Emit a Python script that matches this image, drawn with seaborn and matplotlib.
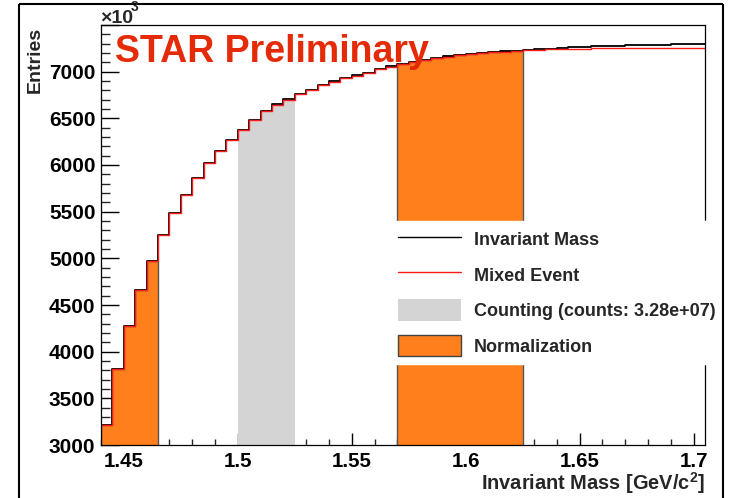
import numpy as np
import pandas as pd
import matplotlib
matplotlib.use("Agg")
import matplotlib.pyplot as plt
from matplotlib.lines import Line2D
from matplotlib.patches import Patch
from matplotlib.ticker import MultipleLocator, FuncFormatter
import seaborn as sns

# Invariant-mass binning (GeV/c^2): 53 bins of 5 MeV starting at 1.44
mass_min, bin_width, n_bins = 1.44, 0.005, 53
bin_edges = [round(mass_min + i * bin_width, 3) for i in range(n_bins + 1)]

# Same-event invariant-mass spectrum (entries / 10^3)
same_event = [3210, 3810, 4280, 4660, 4975, 5245, 5485, 5680, 5860, 6020,
              6155, 6270, 6380, 6478, 6574, 6654, 6707, 6764, 6807, 6861,
              6896, 6935, 6960, 6986, 7029, 7056, 7083, 7105, 7125, 7145,
              7165, 7178, 7190, 7200, 7210, 7218, 7225, 7233, 7240, 7248,
              7254, 7260, 7266, 7272, 7276, 7280, 7283, 7286, 7288, 7290,
              7292, 7293, 7294]

# Normalised mixed-event background (entries / 10^3)
mixed_event = [3210, 3810, 4280, 4660, 4975, 5245, 5485, 5680, 5860, 6020,
               6155, 6270, 6380, 6478, 6574, 6640, 6700, 6760, 6805, 6858,
               6894, 6933, 6958, 6984, 7027, 7054, 7081, 7103, 7123, 7143,
               7162, 7175, 7187, 7197, 7207, 7214, 7221, 7228, 7234, 7239,
               7243, 7246, 7248, 7250, 7251, 7252, 7253, 7253, 7254, 7254,
               7255, 7255, 7255]

counting_window = (1.50, 1.525)
normalization_windows = [(1.44, 1.465), (1.57, 1.625)]

legend_labels = ["Invariant Mass", "Mixed Event",
                 "Counting (counts: 3.28e+07)", "Normalization"]

ORANGE = "#FE7F1C"
GREY = "#D4D4D4"
STAR_RED = "#E42A06"
MIXED_RED = "#FF1A1A"

sns.set_style("ticks")
plt.rcParams["font.family"] = ["Liberation Sans", "DejaVu Sans"]
plt.rcParams["font.weight"] = "bold"
plt.rcParams["mathtext.fontset"] = "custom"
plt.rcParams["mathtext.rm"] = "Liberation Sans:bold"
plt.rcParams["mathtext.bf"] = "Liberation Sans:bold"

W, H = 730, 498
fig = plt.figure(figsize=(W / 100, H / 100), dpi=100)
fig.patch.set_facecolor("white")
ax = fig.add_axes([101 / W, 1 - 445 / H, 604 / W, 420 / H])

edges_arr = np.array(bin_edges)
centers = 0.5 * (edges_arr[:-1] + edges_arr[1:])
df = pd.DataFrame({"mass": centers, "same": same_event, "mixed": mixed_event})


def window_edges(lo, hi):
    return [e for e in bin_edges if lo - 1e-9 <= e <= hi + 1e-9]


def window_rows(lo, hi):
    return df[(df["mass"] > lo) & (df["mass"] < hi)]


# Shaded regions under the same-event histogram
lo, hi = counting_window
sns.histplot(data=window_rows(lo, hi), x="mass", weights="same",
             bins=window_edges(lo, hi), element="step", fill=True,
             color=GREY, alpha=1, linewidth=0, ax=ax)
for lo, hi in normalization_windows:
    sns.histplot(data=window_rows(lo, hi), x="mass", weights="same",
                 bins=window_edges(lo, hi), element="step", fill=True,
                 facecolor=ORANGE, alpha=1, edgecolor="#555555",
                 linewidth=1.0, ax=ax)

# Histogram outlines
sns.histplot(data=df, x="mass", weights="same", bins=bin_edges,
             element="step", fill=False, color="black", linewidth=1.3, ax=ax)
sns.histplot(data=df, x="mass", weights="mixed", bins=bin_edges,
             element="step", fill=False, color=MIXED_RED, linewidth=1.0, ax=ax)

ax.set_xlim(bin_edges[0], bin_edges[-1])
ax.set_ylim(3000, 7500)
ax.set_xlabel("")
ax.set_ylabel("")

ax.xaxis.set_major_locator(MultipleLocator(0.05))
ax.xaxis.set_minor_locator(MultipleLocator(0.01))
ax.yaxis.set_major_locator(MultipleLocator(500))
ax.yaxis.set_minor_locator(MultipleLocator(100))
ax.xaxis.set_major_formatter(FuncFormatter(lambda v, p: f"{v:g}"))
ax.yaxis.set_major_formatter(
    FuncFormatter(lambda v, p: "" if v > 7400 else f"{v:.0f}"))

ax.tick_params(axis="y", which="major", direction="in", length=13, width=1.0,
               pad=4, labelsize=15, colors="black")
ax.tick_params(axis="y", which="minor", direction="in", length=6.5, width=1.0)
ax.tick_params(axis="x", which="major", direction="in", length=9, width=1.0,
               pad=5, labelsize=14.8, colors="black")
ax.tick_params(axis="x", which="minor", direction="in", length=4.3, width=1.0)
for lab in ax.get_xticklabels() + ax.get_yticklabels():
    lab.set_fontweight("bold")
for s in ax.spines.values():
    s.set_linewidth(0.9)
    s.set_color("black")
    s.set_zorder(4)

# Axis titles
fig.text(705 / W, 1 - 483 / H, r"Invariant Mass [GeV/c$^{2}$]", ha="right",
         va="center", fontsize=14.4, fontweight="bold")
fig.text(35 / W, 1 - 27 / H, "Entries", rotation=90, ha="center", va="top",
         fontsize=14, fontweight="bold")
fig.text(100 / W, 1 - 23 / H, "\u00d710", ha="left", va="baseline",
         fontsize=14, fontweight="bold")
fig.text(131 / W, 1 - 11 / H, "3", ha="left", va="baseline",
         fontsize=10, fontweight="bold")

fig.text(115 / W, 1 - 62 / H, "STAR Preliminary", ha="left", va="baseline",
         fontsize=27, fontweight="bold", color=STAR_RED, zorder=6)

# Legend
handles = [Line2D([], [], color="black", linewidth=1.0),
           Line2D([], [], color=MIXED_RED, linewidth=1.0),
           Patch(facecolor=GREY, edgecolor="none"),
           Patch(facecolor=ORANGE, edgecolor="#444444", linewidth=1.0)]
leg = ax.legend(handles, legend_labels, loc="upper left",
                bbox_to_anchor=(390 / W, 1 - 221 / H),
                bbox_transform=fig.transFigure, borderaxespad=0,
                fontsize=13, handlelength=3.5, handleheight=1.47,
                handletextpad=0.72, labelspacing=0.76, borderpad=0.42,
                fancybox=False, framealpha=1, facecolor="white",
                edgecolor="white")
leg.set_zorder(7)
for t in leg.get_texts():
    t.set_fontweight("bold")

# Canvas frame
frame_kw = dict(color="black", linewidth=1.5, transform=fig.transFigure,
                solid_capstyle="butt")
fig.add_artist(Line2D([19 / W, 19 / W], [0, 1 - 4 / H], **frame_kw))
fig.add_artist(Line2D([19 / W, 723 / W], [1 - 4 / H, 1 - 4 / H], **frame_kw))
fig.add_artist(Line2D([723 / W, 723 / W], [0, 1 - 4 / H], **frame_kw))

fig.savefig("out.png", dpi=100, facecolor="white")
